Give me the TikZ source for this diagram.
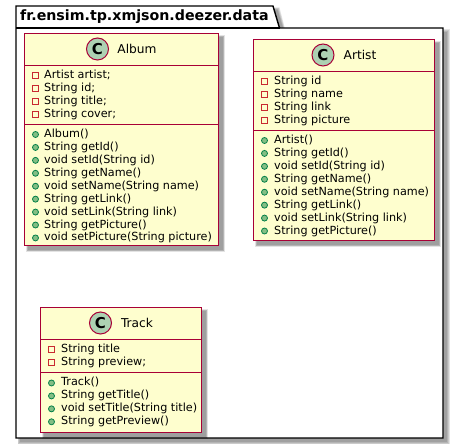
\documentclass[tikz,border=0pt]{standalone}
\usepackage{fontspec}
\setmainfont{DejaVu Sans}
\definecolor{boxfill}{HTML}{FEFECE}
\definecolor{boxline}{HTML}{A80036}
\definecolor{circfill}{HTML}{ADD1B2}
\definecolor{privline}{HTML}{C82930}
\definecolor{pubfill}{HTML}{84BE84}
\definecolor{publine}{HTML}{038048}
\tikzset{
  classbox/.style={draw=boxline,fill=boxfill,line width=1.4pt},
  sepline/.style={draw=boxline,line width=1.2pt},
  pkg/.style={draw=black,fill=white,line width=1.4pt,line join=miter},
  member/.style={anchor=west,inner sep=0pt,font=\fontsize{11.2}{12}\selectfont,text height=8pt,text depth=2pt},
  ctitle/.style={anchor=center,inner sep=0pt,font=\fontsize{12.2}{14}\selectfont},
  privmark/.style={draw=privline,line width=0.8pt,minimum size=5.5pt,inner sep=0pt,shape=rectangle},
  pubmark/.style={draw=publine,fill=pubfill,line width=0.8pt,minimum size=6pt,inner sep=0pt,shape=circle},
  cbadge/.style={circle,draw=boxline,fill=circfill,line width=1pt,minimum size=22pt,inner sep=0pt,font=\bfseries\fontsize{15}{15}\selectfont},
}
% soft shadow, drawn as stacked translucent rectangles
\newcommand{\softshadow}[4]{%
  \foreach \g in {2.5,1.8,1.1,0.4}{
    \fill[black,opacity=0.11] (#1+4-\g,#2+4-\g) rectangle (#3+4+\g,#4+4+\g);
  }}
\newcommand{\memberrows}[6]{% name, mark style, text x, first y, mark x, list
  \foreach \t [count=\i from 0] in {#6}{
    \node[#2] (#1mark\i) at (#5,#4+12.93*\i) {};
    \node[member] (#1row\i) at (#3,#4+12.93*\i) {\t};
  }}
\begin{document}
\begin{tikzpicture}[x=1pt,y=-1pt]
\useasboundingbox (0,0) rectangle (459,446);
% package shadow
\foreach \g in {2.5,1.8,1.1,0.4}{
  \fill[black,opacity=0.11] (20-\g,32-\g) -- (447+\g,32-\g) -- (447+\g,442+\g) -- (20-\g,442+\g) -- cycle;
  \fill[black,opacity=0.11] (20-\g,10-\g) -- (277+\g,10-\g) -- (284+\g,32+\g) -- (20-\g,32+\g) -- cycle;
}
\path[pkg] (16,6) -- (273,6) -- (279.5,28) -- (443,28) -- (443,438) -- (16,438) -- cycle;
\draw[pkg,fill=none] (16,28) -- (279.5,28);
\node[anchor=west,inner sep=0pt,font=\bfseries\fontsize{14.2}{15}\selectfont] (pkgtitle) at (20,17) {fr.ensim.tp.xmjson.deezer.data};
% Album
\softshadow{24.5}{33.5}{218.5}{245.5}
\node[classbox,anchor=north west,minimum width=194pt,minimum height=212pt,inner sep=0pt,outer sep=0pt] (album) at (24.5,33.5) {};
\draw[sepline] (24.5,65.5) -- (218.5,65.5);
\draw[sepline] (24.5,124.5) -- (218.5,124.5);
\node[cbadge] (albumc) at (97.5,49) {C};
\node[ctitle] (albumt) at (137,49) {Album};
\memberrows{albuma}{privmark}{44}{75.5}{35.5}{Artist artist;,String id;,String title;,String cover;}
\memberrows{albumm}{pubmark}{44}{134.5}{35.5}{Album(),String getId(),void setId(String id),String getName(),void setName(String name),String getLink(),void setLink(String link),String getPicture(),void setPicture(String picture)}
% Artist
\softshadow{253.5}{39.5}{434.5}{240.5}
\node[classbox,anchor=north west,minimum width=181pt,minimum height=201pt,inner sep=0pt,outer sep=0pt] (artist) at (253.5,39.5) {};
\draw[sepline] (253.5,71.5) -- (434.5,71.5);
\draw[sepline] (253.5,130.5) -- (434.5,130.5);
\node[cbadge] (artistc) at (323,55) {C};
\node[ctitle] (artistt) at (360,55) {Artist};
\memberrows{artista}{privmark}{274}{81.5}{264.5}{String id,String name,String link,String picture}
\memberrows{artistm}{pubmark}{274}{140.5}{264.5}{Artist(),String getId(),void setId(String id),String getName(),void setName(String name),String getLink(),void setLink(String link),String getPicture()}
% Track
\softshadow{40.5}{307.5}{201.5}{432.5}
\node[classbox,anchor=north west,minimum width=161pt,minimum height=125pt,inner sep=0pt,outer sep=0pt] (track) at (40.5,307.5) {};
\draw[sepline] (40.5,339.5) -- (201.5,339.5);
\draw[sepline] (40.5,372.5) -- (201.5,372.5);
\node[cbadge] (trackc) at (100.5,323) {C};
\node[ctitle] (trackt) at (137,323) {Track};
\memberrows{tracka}{privmark}{61}{349.5}{51.5}{String title,String preview;}
\memberrows{trackm}{pubmark}{61}{383}{51.5}{Track(),String getTitle(),void setTitle(String title),String getPreview()}
\end{tikzpicture}
\end{document}
